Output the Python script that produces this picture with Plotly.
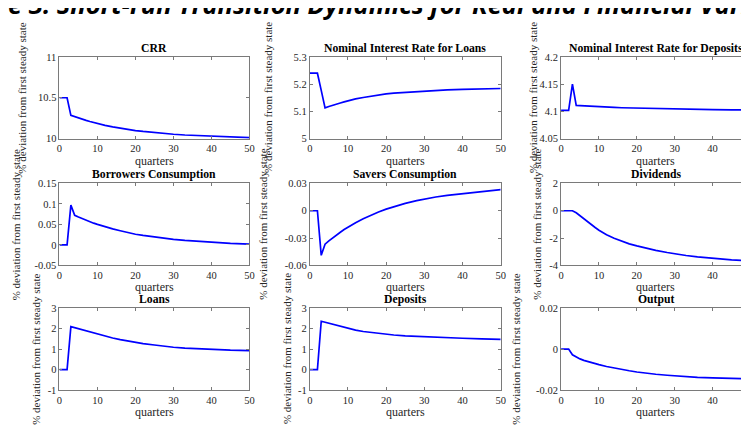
import plotly.graph_objects as go

# ---------------- data ----------------
quarters = [0, 1, 2, 3, 4, 5, 6, 7, 8, 9, 10, 12, 14, 16, 18, 20, 22, 25, 28, 30, 33, 36, 40, 45, 50]

crr = [10.5, 10.5, 10.5, 10.285, 10.268, 10.252, 10.237, 10.223, 10.21, 10.197, 10.185, 10.163,
       10.144, 10.127, 10.112, 10.099, 10.088, 10.073, 10.061, 10.054, 10.045, 10.038, 10.03, 10.021, 10.014]
loan_rate = [5.24, 5.24, 5.24, 5.177, 5.113, 5.118, 5.123, 5.127, 5.131, 5.135, 5.139, 5.146,
             5.151, 5.156, 5.16, 5.164, 5.167, 5.17, 5.173, 5.175, 5.177, 5.179, 5.181, 5.183, 5.184]
deposit_rate = [4.102, 4.102, 4.102, 4.15, 4.111, 4.1105, 4.110, 4.1095, 4.109, 4.1087, 4.1084, 4.1078,
                4.1072, 4.1067, 4.1063, 4.1059, 4.1055, 4.105, 4.1045, 4.1042, 4.1038, 4.1035, 4.1031, 4.1028, 4.1025]
borrowers_cons = [0, 0, 0, 0.097, 0.072, 0.068, 0.064, 0.06, 0.0565, 0.053, 0.05, 0.044,
                  0.039, 0.0345, 0.030, 0.026, 0.023, 0.019, 0.0155, 0.0135, 0.011, 0.0088, 0.0062, 0.0038, 0.002]
savers_cons = [0, 0, 0, -0.049, -0.0368, -0.0332, -0.0298, -0.0266, -0.0236, -0.0207, -0.018, -0.0131,
               -0.0087, -0.0048, -0.0013, 0.0018, 0.0045, 0.0081, 0.0111, 0.0129, 0.0151, 0.017, 0.019, 0.0213, 0.0232]
dividends = [0, 0, 0, 0, -0.15, -0.38, -0.6, -0.82, -1.03, -1.23, -1.43, -1.76,
             -2.02, -2.24, -2.43, -2.58, -2.72, -2.9, -3.06, -3.16, -3.28, -3.38, -3.49, -3.6, -3.68]
loans = [0, 0, 0, 2.1, 2.05, 1.99, 1.93, 1.87, 1.82, 1.77, 1.72, 1.63,
         1.54, 1.46, 1.39, 1.33, 1.27, 1.2, 1.13, 1.09, 1.05, 1.02, 0.98, 0.95, 0.93]
deposits = [0, 0, 0, 2.36, 2.31, 2.25, 2.2, 2.15, 2.1, 2.05, 2.0, 1.93,
            1.86, 1.81, 1.76, 1.72, 1.69, 1.65, 1.62, 1.6, 1.58, 1.56, 1.53, 1.5, 1.48]
output = [0, 0, 0, -0.0028, -0.004, -0.0048, -0.0055, -0.0061, -0.0066, -0.0071, -0.0076, -0.0085,
          -0.0093, -0.01, -0.0106, -0.0112, -0.0117, -0.0123, -0.0128, -0.0131, -0.0135, -0.0138, -0.0141, -0.0144, -0.0146]

panel_titles = ["CRR", "Nominal Interest Rate for Loans", "Nominal Interest Rate for Deposits",
                "Borrowers Consumption", "Savers Consumption", "Dividends",
                "Loans", "Deposits", "Output"]
series = [crr, loan_rate, deposit_rate, borrowers_cons, savers_cons, dividends, loans, deposits, output]

y_ranges = [[10, 11], [5, 5.3], [4.05, 4.2], [-0.05, 0.15], [-0.06, 0.03], [-4, 2], [-1, 3], [-1, 3], [-0.02, 0.02]]
y_tickvals = [[10, 10.5, 11], [5, 5.1, 5.2, 5.3], [4.05, 4.1, 4.15, 4.2],
              [-0.05, 0, 0.05, 0.1, 0.15], [-0.06, -0.03, 0, 0.03], [-4, -2, 0, 2],
              [-1, 0, 1, 2, 3], [-1, 0, 1, 2, 3], [-0.02, 0, 0.02]]
y_ticktext = [["10", "10.5", "11"], ["5", "5.1", "5.2", "5.3"], ["4.05", "4.1", "4.15", "4.2"],
              ["-0.05", "0", "0.05", "0.1", "0.15"], ["-0.06", "-0.03", "0", "0.03"], ["-4", "-2", "0", "2"],
              ["-1", "0", "1", "2", "3"], ["-1", "0", "1", "2", "3"], ["-0.02", "0", "0.02"]]
x_tickvals = [0, 10, 20, 30, 40, 50]
x_label = "quarters"
y_label = "% deviation from first steady state"
fig_title = "Figure 3: Short-run Transition Dynamics for Real and Financial Variables"

# ---------------- layout geometry (pixels) ----------------
W, H = 749, 426
col_px = [(49, 241), (302, 495), (556, 747.5)]
row_px = [(45, 129), (175, 259), (303, 387)]
ylab_x = [[11, 260, 527], [5, 255, 532], [25, 279, 511]]

SERIF = "Liberation Serif, Times New Roman, serif"
AX_COL = "#7a7a7a"
TXT_COL = "#262626"

fig = go.Figure()
annotations = []
layout = dict(width=W, height=H, margin=dict(l=0, r=0, t=0, b=0),
              paper_bgcolor="white", plot_bgcolor="white", showlegend=False)

for i in range(9):
    r, c = divmod(i, 3)
    n = i + 1
    xa = "x" if n == 1 else f"x{n}"
    ya = "y" if n == 1 else f"y{n}"
    fig.add_trace(go.Scatter(x=quarters, y=series[i], mode="lines",
                             line=dict(color="#0000ff", width=1.7),
                             xaxis=xa, yaxis=ya, hoverinfo="skip"))
    x0, x1 = col_px[c]
    t, b = row_px[r]
    common = dict(showline=True, linecolor=AX_COL, linewidth=1, mirror="ticks",
                  ticks="inside", ticklen=3, tickcolor=AX_COL, showgrid=False, zeroline=False,
                  ticklabeloverflow="allow",
                  tickfont=dict(family=SERIF, size=10.5, color=TXT_COL))
    layout["xaxis" if n == 1 else f"xaxis{n}"] = dict(
        domain=[x0 / W, x1 / W], anchor=ya, range=[0, 50], tickvals=x_tickvals, **common)
    layout["yaxis" if n == 1 else f"yaxis{n}"] = dict(
        domain=[1 - b / H, 1 - t / H], anchor=xa, range=y_ranges[i],
        tickvals=y_tickvals[i], ticktext=y_ticktext[i], **common)
    # panel title
    annotations.append(dict(text=f"<b>{panel_titles[i]}</b>", xref="paper", yref="paper",
                            x=(x0 + x1) / 2 / W, y=1 - (t - 9) / H, xanchor="center", yanchor="middle",
                            showarrow=False, font=dict(family=SERIF, size=11.7, color="black")))
    # x axis label
    annotations.append(dict(text=x_label, xref="paper", yref="paper",
                            x=(x0 + x1) / 2 / W, y=1 - (b + 22.5) / H, xanchor="center", yanchor="middle",
                            showarrow=False, font=dict(family=SERIF, size=12, color=TXT_COL)))
    # y axis label
    annotations.append(dict(text=y_label, xref="paper", yref="paper", textangle=-90,
                            x=ylab_x[r][c] / W, y=1 - (t + b) / 2 / H, xanchor="center", yanchor="middle",
                            showarrow=False, font=dict(family=SERIF, size=11, color=TXT_COL)))

annotations.append(dict(text=fig_title, xref="paper", yref="paper", x=0.497, y=1,
                        xanchor="center", yanchor="bottom", yshift=-10, showarrow=False,
                        font=dict(family="Open Sans", size=25.5, color="black", weight="bold", style="italic")))

layout["annotations"] = annotations
fig.update_layout(**layout)
fig.write_html("out.html")
